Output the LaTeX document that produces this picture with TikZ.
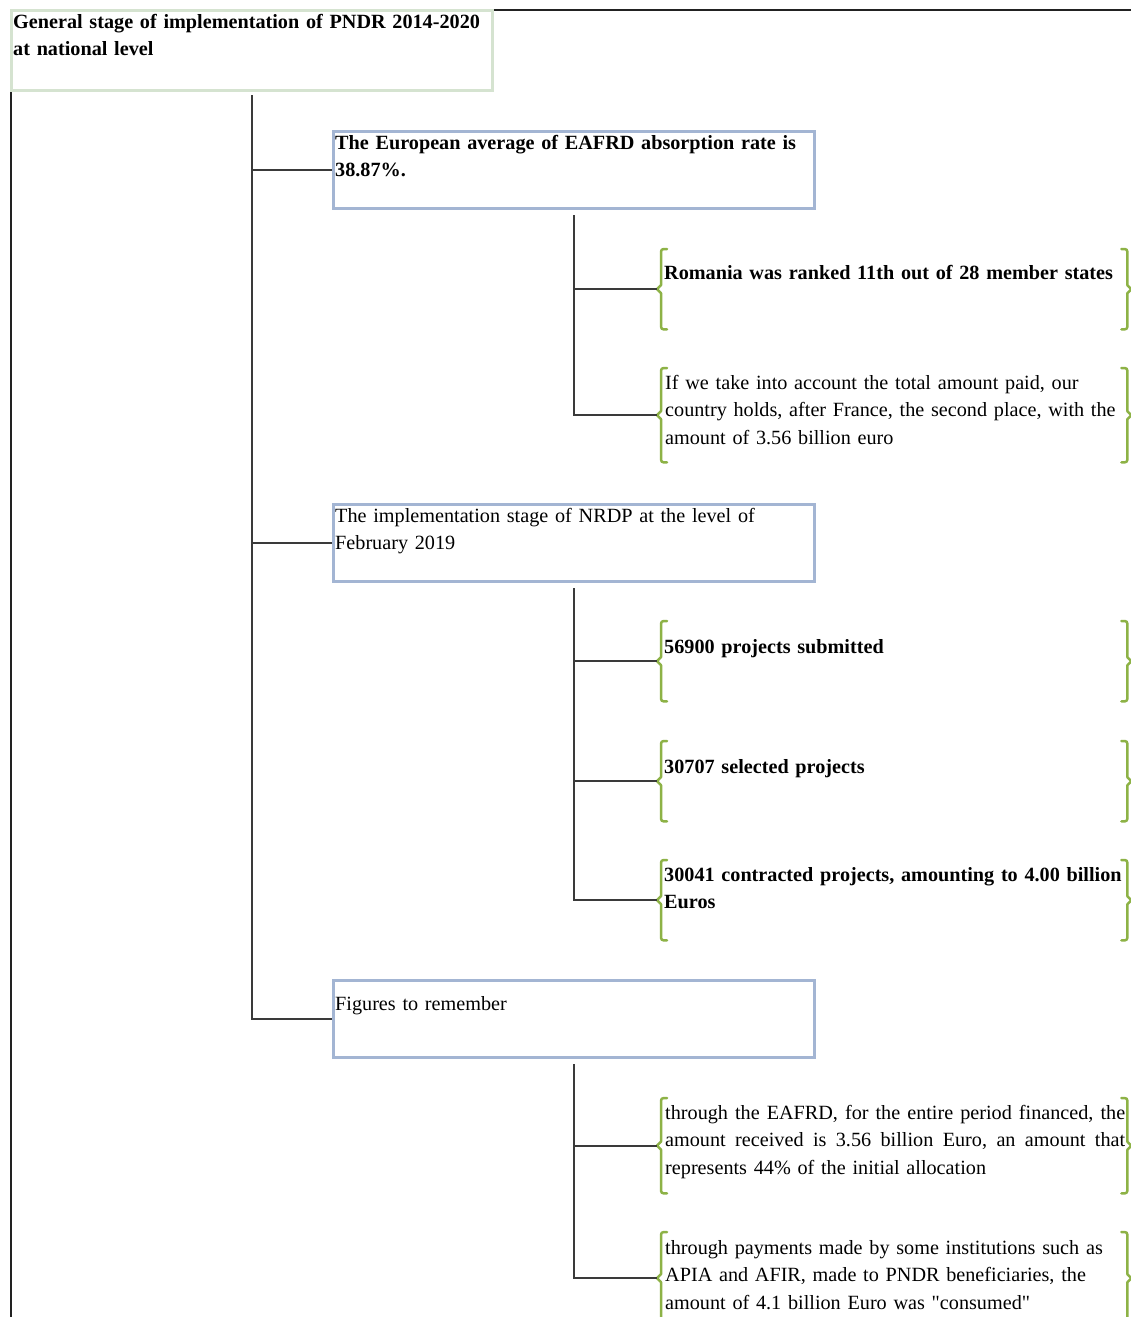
\documentclass[tikz,border=0pt]{standalone}
\usepackage{fontspec}
\setmainfont{Liberation Serif}[Ligatures=TeXOff]
\definecolor{linec}{HTML}{3A3A3A}
\definecolor{rootc}{HTML}{D5E3D0}
\definecolor{boxc}{HTML}{A3B5D3}
\definecolor{bracec}{HTML}{8DB246}
\definecolor{framec}{HTML}{222222}
\tikzset{
  conn/.style={draw=linec, line width=2pt},
  framel/.style={draw=framec, line width=2pt},
  rootbox/.style={draw=rootc, line width=3pt, inner sep=0pt, anchor=north west},
  lvbox/.style={draw=boxc, line width=3pt, inner sep=0pt, anchor=north west, minimum width=481pt, minimum height=77pt},
  itembox/.style={inner sep=0pt, anchor=north west, minimum width=466pt},
  txt/.style={anchor=north west, inner sep=0pt, align=left, text width=520pt, font=\fontsize{20.2}{27.5}\selectfont},
  btxt/.style={txt, font=\fontsize{20.2}{27.5}\selectfont\bfseries},
  bracestyle/.style={draw=bracec, line width=2.5pt, line cap=round, line join=round},
}
\newcommand{\twobraces}[1]{%
  \draw[bracestyle] ([xshift=6pt]#1.north west) .. controls (#1.north west) .. ([yshift=-6pt]#1.north west)
    -- ([yshift=4pt]#1.west) -- ([xshift=-4pt]#1.west) -- ([yshift=-4pt]#1.west)
    -- ([yshift=6pt]#1.south west) .. controls (#1.south west) .. ([xshift=6pt]#1.south west);
  \draw[bracestyle] ([xshift=-6pt]#1.north east) .. controls (#1.north east) .. ([yshift=-6pt]#1.north east)
    -- ([yshift=4pt]#1.east) -- ([xshift=4pt]#1.east) -- ([yshift=-4pt]#1.east)
    -- ([yshift=6pt]#1.south east) .. controls (#1.south east) .. ([xshift=-6pt]#1.south east);
}
\newcommand{\jline}[1]{\leavevmode\hbox to 460pt{#1}}
\begin{document}
\begin{tikzpicture}[x=1pt,y=-1pt]
\useasboundingbox[fill=white] (0,0) rectangle (1131,1317);

% boxes
\node[rootbox, minimum width=481pt, minimum height=80pt] (root) at (10,9) {};
\node[lvbox] (b1) at (332,130) {};
\node[lvbox] (b2) at (332,503) {};
\node[lvbox] (b3) at (332,979) {};

% item regions (braces)
\node[itembox, minimum height=80pt] (i1) at (661,249) {};
\node[itembox, minimum height=94pt] (i2) at (661,368) {};
\node[itembox, minimum height=80pt] (i3) at (661,621) {};
\node[itembox, minimum height=80pt] (i4) at (661,741) {};
\node[itembox, minimum height=80pt] (i5) at (661,860) {};
\node[itembox, minimum height=95pt] (i6) at (661,1098) {};
\node[itembox, minimum height=92pt] (i7) at (661,1232) {};

\twobraces{i1}\twobraces{i2}\twobraces{i3}\twobraces{i4}\twobraces{i5}\twobraces{i6}\twobraces{i7}

% frame lines
\draw[framel] ([yshift=-1pt]root.north east) -- ++(640,0);
\draw[framel] ([xshift=1pt]root.south west) -- ++(0,1227);

% main trunk
\coordinate (t0) at ([yshift=-3pt]root.south);
\draw[conn] (t0) |- (b3.west);
\draw[conn] (t0 |- b1.west) -- (b1.west);
\draw[conn] (t0 |- b2.west) -- (b2.west);

% sub trunks
\coordinate (s1) at ([yshift=-5pt]b1.south);
\draw[conn] (s1) |- ([xshift=-4pt]i2.west);
\draw[conn] (s1 |- i1.west) -- ([xshift=-4pt]i1.west);

\coordinate (s2) at ([yshift=-5pt]b2.south);
\draw[conn] (s2) |- ([xshift=-4pt]i5.west);
\draw[conn] (s2 |- i3.west) -- ([xshift=-4pt]i3.west);
\draw[conn] (s2 |- i4.west) -- ([xshift=-4pt]i4.west);

\coordinate (s3) at ([yshift=-5pt]b3.south);
\draw[conn] (s3) |- ([xshift=-4pt]i7.west);
\draw[conn] (s3 |- i6.west) -- ([xshift=-4pt]i6.west);

% texts
\node[btxt] (rt) at (13,9) {\strut General stage of implementation of PNDR 2014-2020\\at national level};
\node[btxt] (b1t) at (335,130) {\strut The European average of EAFRD absorption rate is\\38.87\%.};
\node[txt] (b2t) at (335,503) {\strut The implementation stage of NRDP at the level of\\February 2019};
\node[txt] (b3t) at (335,991) {\strut Figures to remember};
\node[btxt] (i1t) at (664,260) {\strut Romania was ranked 11th out of 28 member states};
\node[txt] (i2t) at (665,370) {\strut If we take into account the total amount paid, our\\country holds, after France, the second place, with the\\amount of 3.56 billion euro};
\node[btxt] (i3t) at (664,634) {\strut 56900 projects submitted};
\node[btxt] (i4t) at (664,754) {\strut 30707 selected projects};
\node[btxt] (i5t) at (664,862) {\strut 30041 contracted projects, amounting to 4.00 billion\\Euros};
\node[txt] (i6t) at (665,1100) {\strut\jline{through\hfil\ the\hfil\ EAFRD,\hfil\ for\hfil\ the\hfil\ entire\hfil\ period\hfil\ financed,\hfil\ the}\\
  \strut\jline{amount\hfil\ received\hfil\ is\hfil\ 3.56\hfil\ billion\hfil\ Euro,\hfil\ an\hfil\ amount\hfil\ that}\\
  represents 44\% of the initial allocation};
\node[txt] (i7t) at (665,1235) {\strut through payments made by some institutions such as\\APIA and AFIR, made to PNDR beneficiaries, the\\amount of 4.1 billion Euro was "consumed"};
\end{tikzpicture}
\end{document}
